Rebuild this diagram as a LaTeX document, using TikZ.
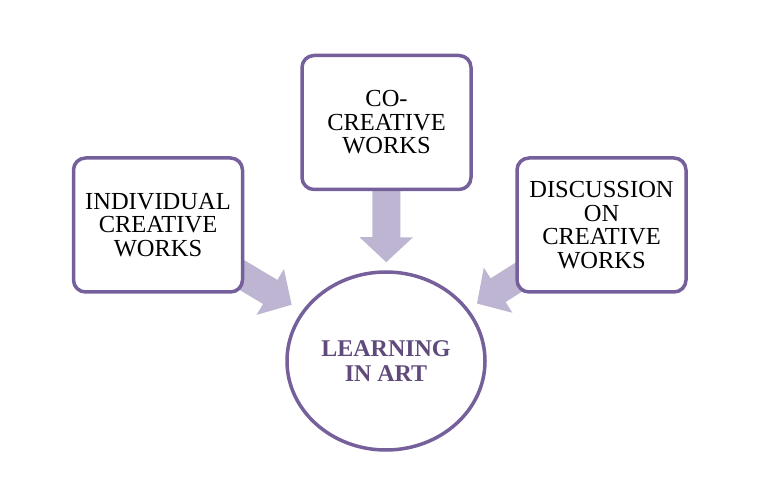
\documentclass[tikz,border=0pt]{standalone}
\usepackage{fontspec}
\setmainfont{Liberation Serif}
\usepackage{tikz}
\usetikzlibrary{positioning, arrows.meta, shapes.geometric, backgrounds}
\definecolor{mypurple}{RGB}{118, 96, 155}
\definecolor{mylilac}{RGB}{189, 181, 209}
\definecolor{darkpurple}{RGB}{96, 74, 124}

\tikzset{
    workbox/.style={draw, color=mypurple, line width=3.5pt, rounded corners=12pt, fill=white,
        minimum width=169pt, minimum height=134pt, inner sep=0pt, align=center,
        text=black, font=\fontsize{24.5}{23.5}\selectfont},
    learnellipse/.style={draw, ellipse, color=mypurple, line width=3.5pt, fill=white,
        minimum width=198pt, minimum height=178pt, inner sep=0pt, align=center,
        text=darkpurple, font=\fontsize{24}{24.5}\selectfont\bfseries},
    fatarrow/.style={-{Triangle[width=52pt, length=25pt]}, line width=28pt, color=mylilac}
}

\begin{document}
\begin{tikzpicture}[x=1pt, y=1pt]
    \useasboundingbox (0,0) rectangle (775,503);
    \node[learnellipse] (learn) at (386,142) {LEARNING\\IN ART};
    \node[workbox] (indiv) at (158,278) {INDIVIDUAL\\CREATIVE\\WORKS};
    \node[workbox] (cowork) at (386.5,380.5) {CO-\\CREATIVE\\WORKS};
    \node[workbox] (discuss) at (601.5,278) {DISCUSSION\\ON\\CREATIVE\\WORKS};
    % arrows behind the boxes
    \begin{pgfonlayer}{background}
        \draw[fatarrow, shorten <=-20pt, shorten >=12pt] (indiv) -- (learn);
        \draw[fatarrow, shorten <=-20pt, shorten >=8pt] (cowork) -- (learn);
        \draw[fatarrow, shorten <=-20pt, shorten >=10pt] (discuss) -- (learn);
    \end{pgfonlayer}
\end{tikzpicture}
\end{document}
